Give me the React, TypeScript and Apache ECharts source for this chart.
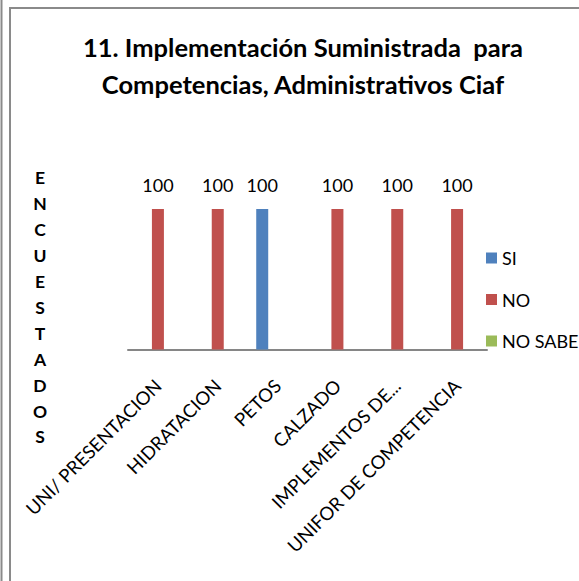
import React, { useEffect, useRef } from "react";
import * as echarts from "echarts";

const categories = [
  "UNI/ PRESENTACION",
  "HIDRATACION",
  "PETOS",
  "CALZADO",
  "IMPLEMENTOS DE...",
  "UNIFOR DE COMPETENCIA",
];
const siValues = [0, 0, 100, 0, 0, 0];
const noValues = [100, 100, 0, 100, 100, 100];
const noSabeValues = [0, 0, 0, 0, 0, 0];
const seriesNames = ["SI", "NO", "NO SABE"];
const yAxisLetters = ["E", "N", "C", "U", "E", "S", "T", "A", "D", "O", "S"];
const titleLines = [
  "11. Implementación Suministrada  para",
  "Competencias, Administrativos Ciaf",
];

const FONT = "Lato, 'Liberation Sans', sans-serif";
const colors = ["#4F81BD", "#C0504D", "#9BBB59"];

export default function App() {
  const ref = useRef<HTMLDivElement>(null);

  useEffect(() => {
    if (!ref.current) return;
    const chart = echarts.init(ref.current, undefined, { renderer: "svg" });
    const labelCfg = {
      show: true,
      position: "top" as const,
      distance: 15,
      fontFamily: FONT,
      fontSize: 18,
      color: "#000",
      formatter: (p: any) => (p.value ? String(p.value) : ""),
    };
    const seriesData = [siValues, noValues, noSabeValues];
    chart.setOption({
      animation: false,
      backgroundColor: "#fff",
      color: colors,
      title: {
        text: titleLines.join("\n"),
        left: 303,
        top: 28,
        padding: 0,
        textAlign: "center",
        textStyle: {
          fontFamily: FONT,
          fontWeight: "bold",
          fontSize: 25.5,
          lineHeight: 37,
          color: "#000",
        },
      },
      legend: {
        orient: "vertical",
        left: 481,
        top: 244,
        itemWidth: 11,
        itemHeight: 11,
        itemGap: 23.5,
        icon: "rect",
        data: seriesNames,
        textStyle: { fontFamily: FONT, fontSize: 18, color: "#000" },
      },
      grid: { left: 128, right: 92, top: 209, bottom: 231.5 },
      xAxis: {
        type: "category",
        data: categories,
        axisLine: { lineStyle: { color: "#868686", width: 2 } },
        axisTick: { show: false },
        axisLabel: {
          rotate: 45,
          margin: 33,
          interval: 0,
          fontFamily: FONT,
          fontSize: 18.5,
          color: "#000",
        },
      },
      yAxis: { type: "value", min: 0, max: 100, show: false },
      series: seriesNames.map((name, i) => ({
        name,
        type: "bar",
        data: seriesData[i],
        barWidth: 12,
        barGap: "28%",
        label: labelCfg,
      })),
      graphic: [
        {
          type: "line",
          shape: { x1: 1.5, y1: 0, x2: 1.5, y2: 581 },
          style: { stroke: "#8a8a8a", lineWidth: 2 },
        },
        {
          type: "line",
          shape: { x1: 10, y1: 7, x2: 10, y2: 581 },
          style: { stroke: "#8a8a8a", lineWidth: 2 },
        },
        {
          type: "line",
          shape: { x1: 9, y1: 8, x2: 579, y2: 8 },
          style: { stroke: "#8a8a8a", lineWidth: 2 },
        },
        {
          type: "text",
          x: 40,
          y: 165,
          style: {
            text: yAxisLetters.join("\n"),
            fontFamily: FONT,
            fontWeight: "bold",
            fontSize: 17.5,
            lineHeight: 25.9,
            align: "center",
            verticalAlign: "top",
            fill: "#000",
          },
        },
      ],
    });
    return () => chart.dispose();
  }, []);

  return (
    <div
      ref={ref}
      style={{
        position: "fixed",
        left: 0,
        top: 0,
        width: 579,
        height: 581,
        background: "#fff",
      }}
    />
  );
}
